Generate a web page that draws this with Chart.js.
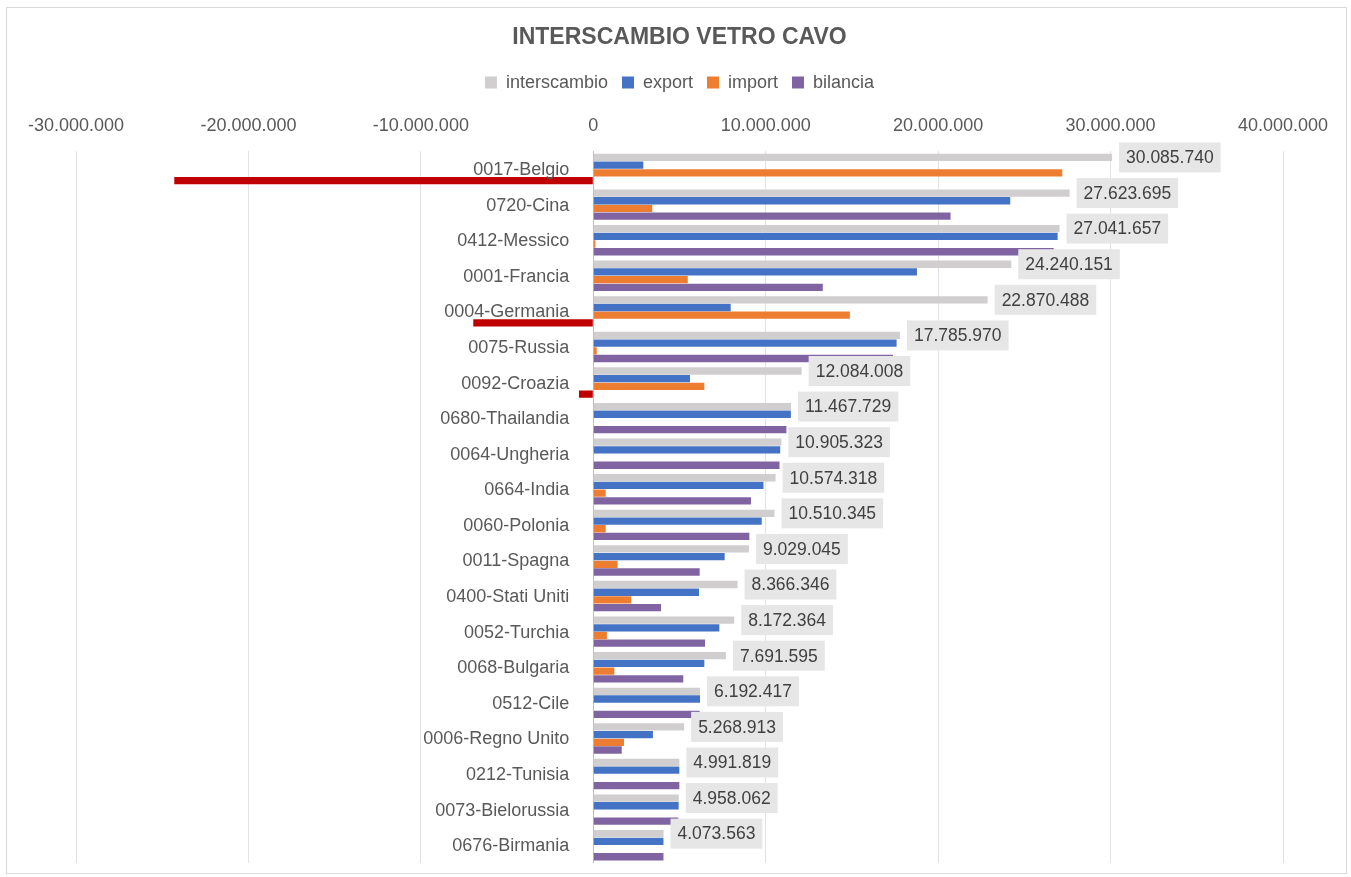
<!DOCTYPE html>
<html>
<head>
<meta charset="utf-8">
<title>Interscambio vetro cavo</title>
<script src="https://cdn.jsdelivr.net/npm/chart.js@4.4.1/dist/chart.umd.min.js"></script>
<style>
  html, body { margin: 0; padding: 0; background: #fff; }
  #wrap { position: relative; width: 1351px; height: 877px; }
</style>
</head>
<body>
<div id="wrap"><canvas id="chart"></canvas></div>
<script>
const paesi = [
    "0017-Belgio", "0720-Cina", "0412-Messico", "0001-Francia", "0004-Germania",
    "0075-Russia", "0092-Croazia", "0680-Thailandia", "0064-Ungheria", "0664-India",
    "0060-Polonia", "0011-Spagna", "0400-Stati Uniti", "0052-Turchia", "0068-Bulgaria",
    "0512-Cile", "0006-Regno Unito", "0212-Tunisia", "0073-Bielorussia", "0676-Birmania"
];
const interscambio = [
    30085740, 27623695, 27041657, 24240151, 22870488, 17785970, 12084008, 11467729, 10905323, 10574318,
    10510345, 9029045, 8366346, 8172364, 7691595, 6192417, 5268913, 4991819, 4958062, 4073563
];
const esportazioni = [
    2900000, 24180000, 26930000, 18770000, 7970000, 17590000, 5610000, 11460000, 10840000, 9870000,
    9770000, 7620000, 6130000, 7310000, 6440000, 6190000, 3460000, 4990000, 4950000, 4070000
];
const importazioni = [
    27200000, 3420000, 120000, 5480000, 14880000, 200000, 6440000, 0, 0, 720000,
    720000, 1410000, 2190000, 790000, 1220000, 0, 1780000, 0, 0, 0
];
const bilancia = [
    -24300000, 20720000, 26700000, 13310000, -6960000, 17380000, -830000, 11200000, 10800000, 9150000,
    9050000, 6170000, 3930000, 6480000, 5220000, 6170000, 1650000, 4990000, 4930000, 4070000
];
const serie = ["interscambio", "export", "import", "bilancia"];
const colori = ["#D0CECE", "#4472C4", "#ED7D31", "#8064A2"];
const coloreNegativo = "#C00000";
const asseMin = -30000000;
const asseMax = 40000000;
const asseStep = 10000000;

const FONT = '"Liberation Sans", Arial, sans-serif';
const GRIGIO = "#595959";

const fmt = (v) => String(Math.round(v)).replace(/\B(?=(\d{3})+(?!\d))/g, ".");

// etichette categorie accanto all'asse dello zero + valori interscambio
const etichette = {
    id: "etichette",
    afterDatasetsDraw(chart) {
        const ctx = chart.ctx;
        const sx = chart.scales.x;
        const sy = chart.scales.y;
        const x0 = sx.getPixelForValue(0);
        ctx.save();
        ctx.font = "18px " + FONT;
        ctx.textBaseline = "middle";
        ctx.textAlign = "right";
        ctx.fillStyle = GRIGIO;
        paesi.forEach((p, i) => ctx.fillText(p, x0 - 24, sy.getPixelForTick(i) + 1));

        ctx.font = "17.5px " + FONT;
        ctx.textAlign = "left";
        chart.getDatasetMeta(0).data.forEach((bar, i) => {
            const txt = fmt(interscambio[i]);
            const w = ctx.measureText(txt).width + 14;
            const bx = bar.x + 7;
            ctx.fillStyle = "#E7E6E6";
            ctx.fillRect(bx, bar.y - 15, w, 30);
            ctx.fillStyle = "#404040";
            ctx.fillText(txt, bx + 7, bar.y + 1);
        });
        ctx.restore();
    }
};

const cornice = {
    id: "cornice",
    beforeDraw(chart) {
        const ctx = chart.ctx;
        ctx.save();
        ctx.strokeStyle = "#D9D9D9";
        ctx.lineWidth = 1;
        ctx.strokeRect(6.5, 7.5, 1340, 866);
        ctx.restore();
    }
};

const datasets = [
    { label: serie[0], data: interscambio, backgroundColor: colori[0] },
    { label: serie[1], data: esportazioni, backgroundColor: colori[1] },
    { label: serie[2], data: importazioni, backgroundColor: colori[2] },
    { label: serie[3], data: bilancia, backgroundColor: bilancia.map(v => v < 0 ? coloreNegativo : colori[3]) }
];

new Chart(document.getElementById("chart"), {
    type: "bar",
    data: { labels: paesi, datasets: datasets },
    options: {
        indexAxis: "y",
        responsive: true,
        maintainAspectRatio: false,
        animation: false,
        datasets: { bar: { categoryPercentage: 0.865, barPercentage: 0.95, borderWidth: 0 } },
        layout: { padding: { top: 0, left: 76, right: 68, bottom: 14 } },
        plugins: {
            title: {
                display: true,
                text: "INTERSCAMBIO VETRO CAVO",
                color: GRIGIO,
                font: { family: FONT, size: 23, weight: "bold" },
                padding: { top: 24, bottom: 8 }
            },
            legend: {
                position: "top",
                labels: {
                    color: GRIGIO,
                    font: { family: FONT, size: 18 },
                    boxWidth: 12,
                    boxHeight: 12,
                    padding: 14,
                    generateLabels(chart) {
                        const items = Chart.defaults.plugins.legend.labels.generateLabels(chart);
                        items.forEach((it, i) => {
                            it.fillStyle = colori[i];
                            it.strokeStyle = colori[i];
                            it.lineWidth = 0;
                        });
                        return items;
                    }
                }
            },
            tooltip: { enabled: false }
        },
        scales: {
            x: {
                position: "top",
                min: asseMin,
                max: asseMax,
                ticks: {
                    stepSize: asseStep,
                    color: GRIGIO,
                    font: { family: FONT, size: 18 },
                    padding: 14,
                    callback: (v) => fmt(v)
                },
                grid: {
                    drawTicks: false,
                    color: (c) => c.tick && c.tick.value === 0 ? "#BFBFBF" : "#E3E3E3",
                    lineWidth: 1
                },
                border: { display: false }
            },
            y: {
                display: false
            }
        }
    },
    plugins: [etichette, cornice]
});
</script>
</body>
</html>
